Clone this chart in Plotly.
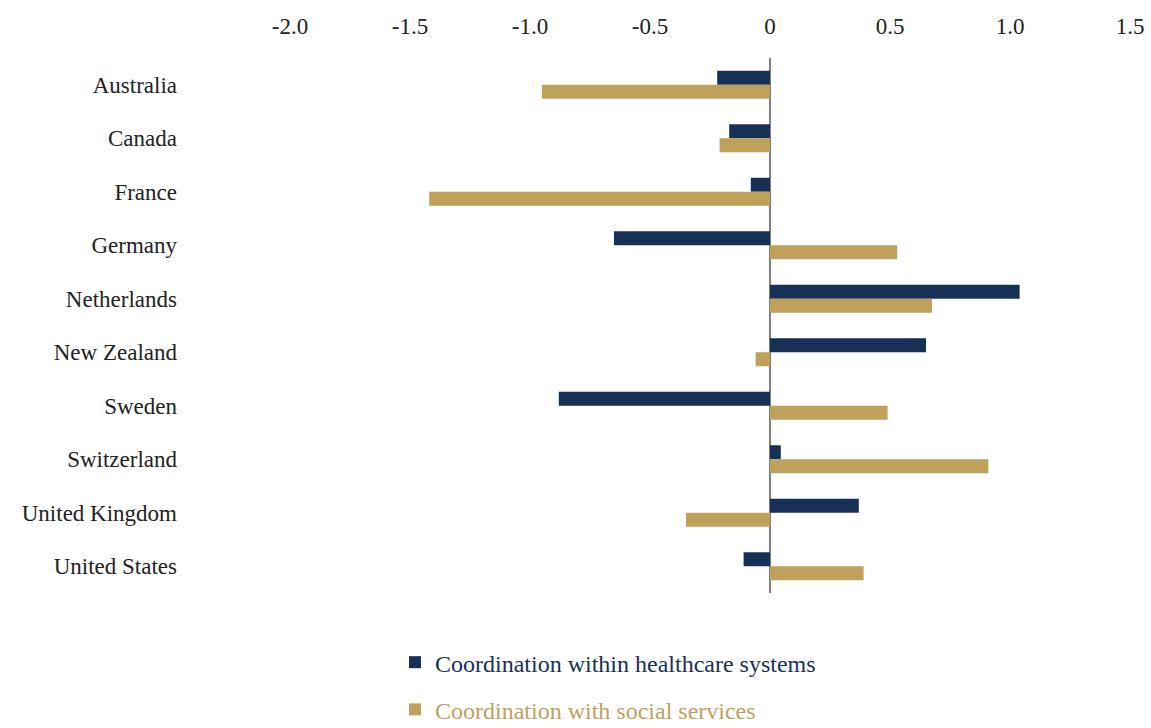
import plotly.graph_objects as go

countries = ["Australia", "Canada", "France", "Germany", "Netherlands",
             "New Zealand", "Sweden", "Switzerland", "United Kingdom", "United States"]
within_healthcare = [-0.22, -0.17, -0.08, -0.65, 1.04, 0.65, -0.88, 0.045, 0.37, -0.11]
with_social = [-0.95, -0.21, -1.42, 0.53, 0.675, -0.06, 0.49, 0.91, -0.35, 0.39]
tick_vals = [-2.0, -1.5, -1.0, -0.5, 0, 0.5, 1.0, 1.5]
tick_text = ["-2.0", "-1.5", "-1.0", "-0.5", "0", "0.5", "1.0", "1.5"]

NAVY = "#173156"
GOLD = "#BFA15C"
FONT = "Liberation Serif"

fig = go.Figure()
fig.add_trace(go.Bar(
    y=countries, x=within_healthcare, orientation="h",
    marker=dict(color=NAVY, line=dict(width=0)),
    name='<span style="color:%s">Coordination within healthcare systems</span>' % NAVY,
    legendgroup="a",
))
fig.add_trace(go.Bar(
    y=countries, x=with_social, orientation="h",
    marker=dict(color=GOLD, line=dict(width=0)),
    name='<span style="color:%s">Coordination with social services</span>' % GOLD,
    legendgroup="b",
))

fig.update_layout(
    width=1151, height=728,
    margin=dict(l=290, r=21, t=58, b=135, autoexpand=False),
    paper_bgcolor="white", plot_bgcolor="white",
    barmode="group", bargap=0.477, bargroupgap=0,
    font=dict(family=FONT, size=23, color="#222222"),
    showlegend=True,
    legend=dict(
        orientation="v", x=0.125, xanchor="left", y=-0.088, yanchor="top",
        font=dict(family=FONT, size=24),
        tracegroupgap=13, itemwidth=30,
        bgcolor="rgba(0,0,0,0)",
    ),
    xaxis=dict(
        side="top", range=[-2.0, 1.5], tickvals=tick_vals, ticktext=tick_text,
        showgrid=False, zeroline=True, zerolinecolor="#808080", zerolinewidth=2,
        showline=False, ticks="", ticklabelstandoff=18, automargin=False,
        tickfont=dict(family=FONT, size=23, color="#222222"),
    ),
    yaxis=dict(
        autorange="reversed", showgrid=False, zeroline=False, showline=False,
        ticks="", ticklabelstandoff=112, automargin=False,
        tickfont=dict(family=FONT, size=23, color="#222222"),
    ),
)

fig.write_html("out.html")
